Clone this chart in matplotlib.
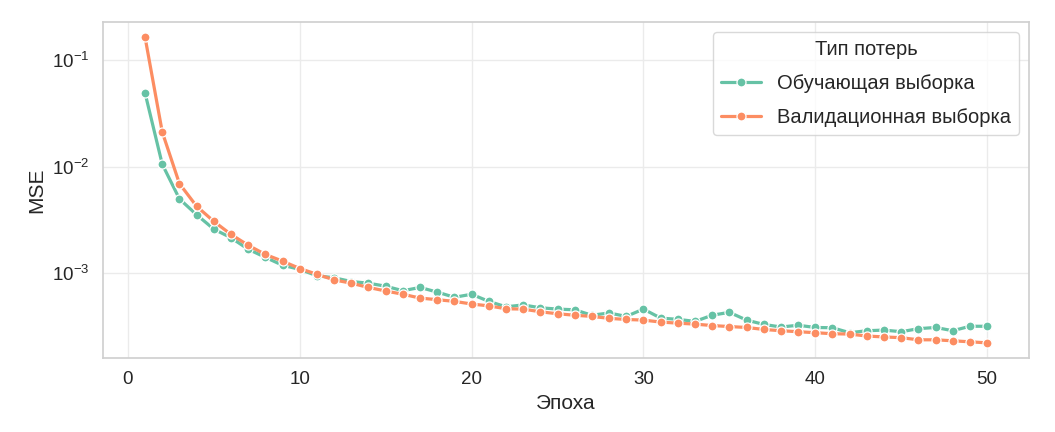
import matplotlib
matplotlib.use("Agg")
import matplotlib.pyplot as plt
import seaborn as sns
import numpy as np

epochs = list(range(1, 51))
train_loss = [0.049, 0.0105, 0.00496, 0.00352, 0.00258, 0.00214, 0.00167, 0.0014, 0.00118, 0.00108,
              0.00094, 0.00090, 0.00083, 0.00080, 0.00075, 0.00068, 0.00073, 0.00066, 0.00059, 0.00063,
              0.00054, 0.00048, 0.00050, 0.00047, 0.000457, 0.00045, 0.00040, 0.00042, 0.00039, 0.000457,
              0.000376, 0.000366, 0.00035, 0.00040, 0.000426, 0.00036, 0.000328, 0.00031, 0.000322, 0.000307,
              0.000305, 0.000274, 0.000286, 0.00029, 0.00028, 0.000299, 0.000307, 0.000286, 0.000315, 0.000315]
val_loss = [0.164, 0.0211, 0.0069, 0.00423, 0.00305, 0.0023, 0.00182, 0.00149, 0.00129, 0.0011,
            0.00097, 0.00086, 0.00080, 0.00073, 0.000676, 0.00063, 0.00058, 0.00056, 0.00054, 0.00051,
            0.00049, 0.00046, 0.000457, 0.000431, 0.000413, 0.00040, 0.00039, 0.000374, 0.000365, 0.00036,
            0.000345, 0.000337, 0.00033, 0.00032, 0.000313, 0.000307, 0.000294, 0.000286, 0.00028, 0.000274,
            0.000268, 0.000266, 0.000255, 0.00025, 0.000246, 0.000235, 0.000235, 0.00023, 0.000225, 0.00022]
series_names = ["Обучающая выборка", "Валидационная выборка"]
legend_title = "Тип потерь"

sns.set_theme(style="whitegrid")
plt.rcParams['font.family'] = ['Liberation Sans', 'DejaVu Sans']

colors = sns.color_palette("Set2", 2)

fig = plt.figure(figsize=(10.55, 4.32), dpi=100)
ax = fig.add_axes([0.0976, 0.171, 0.878, 0.778])

for vals, name, c in zip([train_loss, val_loss], series_names, colors):
    ax.plot(epochs, vals, color=c, marker='o', markersize=6.5, markeredgecolor='white',
            markeredgewidth=0.9, linewidth=2.3, label=name)

ax.set_yscale('log')
ax.set_xlabel("Эпоха", fontsize=15)
ax.set_ylabel("MSE", fontsize=15)
ax.tick_params(labelsize=13.5)
for s in ax.spines.values():
    s.set_color('#d0d0d0')
ax.grid(True, color='#ebebeb', linewidth=1)
ax.grid(False, which='minor')
leg = ax.legend(title=legend_title, fontsize=14.5, title_fontsize=14.5, loc='upper right',
                labelspacing=0.75)
leg.get_frame().set_edgecolor('#d0d0d0')

fig.savefig("out.png", dpi=100)
